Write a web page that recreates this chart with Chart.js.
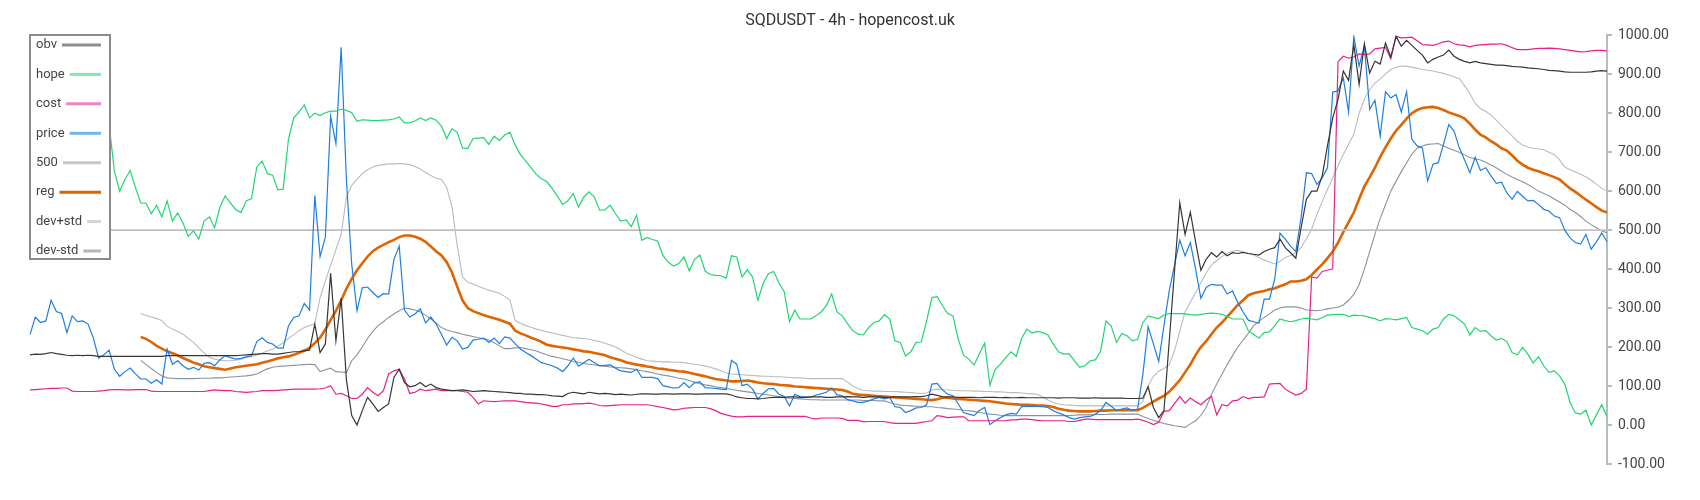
<!DOCTYPE html>
<html><head><meta charset="utf-8">
<script src="https://cdn.jsdelivr.net/npm/chart.js@4.4.1/dist/chart.umd.min.js"></script>
<style>html,body{margin:0;padding:0;background:#fff}#wrap{width:1700px;height:500px;position:relative}</style>
</head><body><div id="wrap"><canvas id="c" width="1700" height="500"></canvas></div>
<script>
const titleText = 'SQDUSDT - 4h - hopencost.uk';
const seriesNames = ['obv','hope','cost','price','500','reg','dev+std','dev-std'];
const yMin = -100, yMax = 1000, yStep = 100;

const obv = [180,182,181,183,186,183,181,179,178,179,
178,179,178,176,176,176,176,176,176,176,
176,176,176,176,176,176,178,178,178,178,
178,178,178,178,178,178,178,178,178,178,
179,180,181,182,183,183,182,182,184,186,
188,188,190,192,259,186,208,389,216,325,
115,24,0,37,71,54,35,45,54,122,
143,109,98,101,109,98,105,96,92,90,
88,89,90,88,86,87,88,87,86,85,
84,83,81,81,79,79,78,78,77,75,
74,73,81,84,82,80,84,82,80,81,
80,78,79,78,77,79,80,80,79,79,
80,80,79,80,80,80,79,79,80,80,
80,80,80,77,72,70,68,68,67,68,
70,71,71,71,72,72,71,71,72,72,
72,71,71,72,72,73,72,72,71,72,
72,72,71,71,72,72,72,72,73,73,
75,79,76,73,72,72,71,71,71,71,
70,71,71,71,70,71,70,70,71,70,
70,70,70,70,70,69,70,70,70,69,
69,69,70,69,69,69,69,69,68,68,
68,69,98,45,19,37,215,395,570,489,
546,470,397,425,442,431,445,434,442,440,
443,440,438,436,445,451,455,477,455,442,
428,506,579,600,600,639,716,788,835,908,
884,976,874,978,903,933,926,980,944,997,
972,987,974,961,949,929,938,944,949,962,
946,938,933,929,933,929,927,925,923,923,
922,920,919,918,916,915,914,912,910,909,
908,906,905,905,905,905,906,908,909,908];

const hope = [874,865,855,850,840,832,826,818,812,806,
800,795,790,784,778,771,651,600,630,653,
609,570,569,542,564,534,575,523,544,519,
484,498,477,523,534,506,558,588,570,553,
545,575,581,662,677,645,641,603,605,733,
788,803,821,788,800,794,801,805,805,810,
807,801,779,783,782,781,781,782,783,785,
790,775,775,780,788,781,788,782,767,735,
760,751,711,709,735,736,737,720,741,730,
744,751,718,693,677,660,643,632,624,607,
587,566,575,594,559,585,598,585,551,552,
564,542,523,526,509,538,474,481,476,472,
435,418,408,414,431,395,425,436,395,386,
384,383,377,434,431,380,398,380,320,363,
388,394,365,342,265,295,272,272,272,280,
290,307,336,290,280,260,242,233,231,250,
263,267,283,272,216,212,177,188,212,213,
267,327,329,306,286,280,220,179,169,154,
183,210,102,143,156,173,188,176,222,246,
236,240,237,231,208,188,182,183,165,148,
152,165,167,190,267,254,212,235,229,216,
220,263,280,276,273,282,286,286,286,285,
283,282,284,286,287,286,284,278,272,272,
272,242,232,223,237,239,255,272,268,265,
268,272,274,272,270,276,282,283,284,284,
278,282,281,280,276,273,267,273,272,270,
273,276,250,246,242,233,246,250,272,284,
280,270,259,231,250,240,242,229,218,222,
214,186,180,199,182,159,175,152,135,139,
126,105,58,31,28,38,0,26,52,22];

const cost = [90,91,92,93,94,94,95,95,87,86,
86,86,86,87,88,90,91,91,90,90,
91,91,91,87,86,86,86,86,86,86,
86,86,86,86,88,90,89,88,88,86,
85,84,85,86,88,88,88,89,90,91,
92,92,92,92,92,93,95,101,79,81,
75,68,68,79,96,84,75,88,131,139,
143,118,81,84,92,88,90,92,88,88,
88,88,86,84,71,54,62,61,60,61,
62,62,62,60,58,57,56,54,51,48,
48,52,52,54,54,55,56,54,50,49,
50,51,52,52,52,52,52,52,50,47,
45,42,39,40,43,44,45,45,45,42,
37,30,26,23,21,21,22,22,22,22,
22,22,22,22,22,22,22,22,18,15,
18,18,18,18,17,12,12,12,8,9,
9,9,9,6,4,4,4,4,4,7,
9,11,24,22,19,20,21,21,11,11,
11,11,11,11,11,11,13,13,15,15,
14,12,11,11,11,11,11,9,9,12,
15,15,14,14,14,14,14,14,14,14,
15,12,7,1,7,35,37,55,73,56,
69,60,52,64,74,26,52,49,62,64,
73,68,71,71,72,105,106,107,92,84,
77,81,92,380,377,394,397,401,932,946,
941,944,952,950,952,965,967,969,940,997,
993,994,995,986,976,975,974,978,983,985,
978,975,974,970,974,975,976,977,977,978,
974,968,963,963,963,965,966,966,967,966,
965,963,961,959,957,958,960,961,961,960];

const price = [232,277,263,267,320,291,286,237,280,265,
267,259,224,172,180,192,143,125,137,146,
131,118,118,107,116,105,195,156,165,152,
143,148,141,158,160,152,167,178,173,169,
171,175,178,214,224,212,208,197,197,254,
276,280,312,295,589,432,482,792,722,969,
626,412,293,352,354,340,327,337,336,425,
459,295,277,285,298,262,277,259,233,205,
225,216,195,199,218,220,223,212,223,209,
226,223,208,195,186,178,169,160,156,152,
146,137,152,172,151,160,169,160,152,153,
154,146,139,137,135,143,122,122,122,119,
101,98,95,96,109,96,108,111,96,95,
94,92,91,166,156,101,105,92,67,81,
93,94,79,73,49,79,73,72,71,77,
80,84,95,78,75,65,62,58,58,62,
67,71,67,71,47,45,32,37,44,45,
52,105,107,90,79,75,54,32,28,24,
37,45,1,11,19,26,30,28,47,48,
48,48,47,45,37,31,26,19,15,19,
21,22,28,37,58,48,37,41,44,37,
41,130,252,208,163,255,344,410,474,434,
468,400,325,353,361,359,359,336,344,314,
290,269,265,261,323,323,374,492,477,459,
445,532,647,645,617,634,660,854,857,891,
803,997,921,972,810,833,741,855,839,848,
803,855,733,716,711,626,669,673,720,771,
754,711,680,647,687,653,660,639,620,623,
596,579,599,587,575,576,566,553,549,536,
532,500,480,468,464,489,451,470,493,470];

// constant reference level, first and last category
const level500 = [500, 500];

const reg = [null,null,null,null,null,null,null,null,null,null,
null,null,null,null,null,null,null,null,null,null,
null,226,221,213,203,196,189,184,179,172,
166,160,156,151,148,146,144,142,145,148,
150,152,154,156,160,163,167,171,174,176,
180,185,191,198,210,224,245,270,293,320,
350,375,397,415,432,446,455,462,469,475,
482,486,486,483,478,470,458,446,435,418,
392,355,320,300,292,287,282,278,274,270,
265,260,242,235,230,224,219,213,206,203,
201,199,197,194,192,189,188,185,182,179,
174,170,166,161,158,155,153,150,148,145,
144,142,140,138,137,134,131,128,125,121,
118,116,114,112,112,113,114,112,109,107,
106,105,103,102,101,99,98,97,96,95,
94,93,92,91,90,86,80,78,77,76,
75,74,73,72,71,70,69,68,67,66,
65,64,66,70,70,68,67,66,65,64,
63,62,61,59,57,55,54,53,52,52,
51,50,50,49,46,42,39,37,36,35,
35,35,36,37,37,38,38,38,38,38,
38,44,52,60,68,75,85,100,115,135,
155,180,200,215,233,250,263,278,293,308,
320,333,338,341,344,348,351,356,361,368,
368,370,374,385,399,412,428,445,468,495,
520,545,580,612,635,660,688,712,735,755,
770,786,800,808,813,815,816,813,808,802,
797,793,786,773,758,745,738,728,720,710,
704,692,678,668,660,655,651,646,641,636,
630,618,607,598,588,578,569,559,550,545];

const devPlus = [null,null,null,null,null,null,null,null,null,null,
null,null,null,null,null,null,null,null,null,null,
null,286,281,277,273,268,253,246,240,233,
222,212,198,185,174,169,166,165,165,166,
169,173,176,180,184,190,195,202,211,222,
232,242,250,255,260,327,370,410,450,490,
585,615,630,645,655,662,666,668,670,670,
671,670,668,663,657,648,640,633,630,610,
560,460,380,366,362,356,351,346,342,338,
330,320,268,261,255,251,246,243,239,236,
233,230,227,224,223,222,220,217,214,210,
205,200,193,185,179,174,169,165,164,163,
162,162,161,161,160,158,156,154,151,148,
144,139,134,131,130,129,128,127,126,125,
125,124,124,123,122,121,121,120,119,119,
119,119,119,119,119,110,100,93,89,88,
87,87,86,86,86,85,84,83,82,81,
82,90,92,91,90,89,88,88,88,87,
87,86,86,85,85,84,83,83,82,81,
80,79,72,64,58,54,52,51,50,49,
49,49,49,49,49,49,49,49,49,49,
49,60,100,125,138,145,155,190,240,290,
315,340,365,390,410,422,432,440,446,448,
444,440,436,430,423,418,413,420,430,435,
442,455,478,503,540,573,605,634,665,694,
720,746,800,835,860,877,888,900,912,918,
921,920,918,915,912,910,908,905,902,898,
893,889,870,850,825,812,805,795,782,768,
755,742,728,718,713,710,708,707,700,694,
680,662,655,649,643,636,628,618,607,600];

const devMinus = [null,null,null,null,null,null,null,null,null,null,
null,null,null,null,null,null,null,null,null,null,
null,166,155,145,135,126,121,120,119,119,
119,119,120,120,120,121,121,122,123,124,
125,126,128,131,138,144,148,150,151,152,
153,154,155,156,155,137,142,146,137,136,
135,165,180,200,222,240,255,265,276,285,
293,300,298,295,290,282,272,262,250,244,
240,237,233,230,227,224,221,218,211,203,
196,196,198,199,196,193,190,185,180,176,
173,170,167,163,161,158,156,154,152,151,
149,148,147,146,144,142,139,137,134,131,
128,126,123,120,118,114,110,106,103,101,
98,96,94,91,89,87,85,83,81,79,
77,75,73,71,69,68,67,66,65,65,
64,64,64,64,64,64,64,64,63,63,
63,62,62,58,54,51,50,49,48,48,
47,47,45,44,42,41,40,38,37,35,
32,30,28,27,25,24,24,24,24,24,
24,24,24,24,24,24,24,24,25,26,
26,26,27,27,27,28,28,28,28,28,
28,22,17,12,8,4,1,-2,-4,-6,
3,11,25,45,78,105,130,155,178,200,
218,235,255,266,276,285,295,300,303,303,
303,300,295,294,293,295,298,300,302,308,
320,335,360,400,445,489,530,565,600,625,
650,672,695,710,716,720,721,722,716,710,
705,700,693,686,683,680,674,667,660,651,
643,636,630,624,617,609,600,594,588,580,
572,564,553,545,535,523,514,506,498,493];

const labels = price.map((_, i) => i);

const styles = [
  {color:'#363636', legend:'#8e8e8e', width:1.2},
  {color:'#20d672', legend:'#84e8b0', width:1.2},
  {color:'#e8208c', legend:'#f283c2', width:1.2},
  {color:'#1f7fe0', legend:'#76b4f0', width:1.2},
  {color:'#c0c0c0', legend:'#c8c8c8', width:1.6},
  {color:'#e06400', legend:'#dc6400', width:2.6},
  {color:'#b8bcc1', legend:'#d3d6d9', width:1.1},
  {color:'#8a939d', legend:'#b0b7be', width:1.1}
];

const values = [obv, hope, cost, price,
  level500.map((v, k) => ({x: k === 0 ? labels[0] : labels[labels.length - 1], y: v})),
  reg, devPlus, devMinus];

const datasets = seriesNames.map((name, k) => ({
  label: name,
  data: values[k],
  borderColor: styles[k].color,
  backgroundColor: styles[k].color,
  borderWidth: styles[k].width,
  legendColor: styles[k].legend,
  pointRadius: 0,
  tension: 0,
  fill: false
}));

const boxLegend = {
  id: 'boxLegend',
  afterDraw(chart) {
    const ctx = chart.ctx;
    const x0 = 30, y0 = 35, w = 80, h = 224;
    ctx.save();
    ctx.fillStyle = '#ffffff';
    ctx.fillRect(x0, y0, w, h);
    ctx.strokeStyle = '#8c8c8c';
    ctx.lineWidth = 2;
    ctx.strokeRect(x0, y0, w, h);
    ctx.font = '13px Roboto';
    ctx.textBaseline = 'middle';
    ctx.textAlign = 'left';
    chart.data.datasets.forEach((ds, k) => {
      const cy = 45 + k * 29.43;
      ctx.fillStyle = '#444444';
      ctx.fillText(ds.label, x0 + 6, cy);
      const tw = ctx.measureText(ds.label).width;
      ctx.strokeStyle = ds.legendColor;
      ctx.lineWidth = 3;
      ctx.beginPath();
      ctx.moveTo(x0 + 6 + tw + 5, cy);
      ctx.lineTo(x0 + 71, cy);
      ctx.stroke();
    });
    ctx.restore();
  }
};

new Chart(document.getElementById('c'), {
  type: 'line',
  data: { labels: labels, datasets: datasets },
  options: {
    responsive: false,
    animation: false,
    layout: { padding: { left: 30, right: 30, top: 0, bottom: 36 } },
    plugins: {
      legend: { display: false },
      tooltip: { enabled: false },
      title: {
        display: true, text: titleText, color: '#333333',
        font: { family: 'Roboto', size: 16, weight: 'normal' },
        padding: { top: 11, bottom: 5 }
      }
    },
    scales: {
      x: { display: false },
      y: {
        position: 'right', min: yMin, max: yMax,
        ticks: { stepSize: yStep, callback: v => Number(v).toFixed(2), color: '#444444',
                 font: { family: 'Roboto', size: 14 }, padding: 6 },
        grid: { drawOnChartArea: false, drawTicks: true, tickLength: 5, color: '#b4bcc4', lineWidth: 2 },
        border: { display: true, color: '#b4bcc4', width: 2 },
        afterFit(s) { s.width = 63; }
      }
    },
    elements: { point: { radius: 0 }, line: { tension: 0 } }
  },
  plugins: [boxLegend]
});
</script>
</body></html>
